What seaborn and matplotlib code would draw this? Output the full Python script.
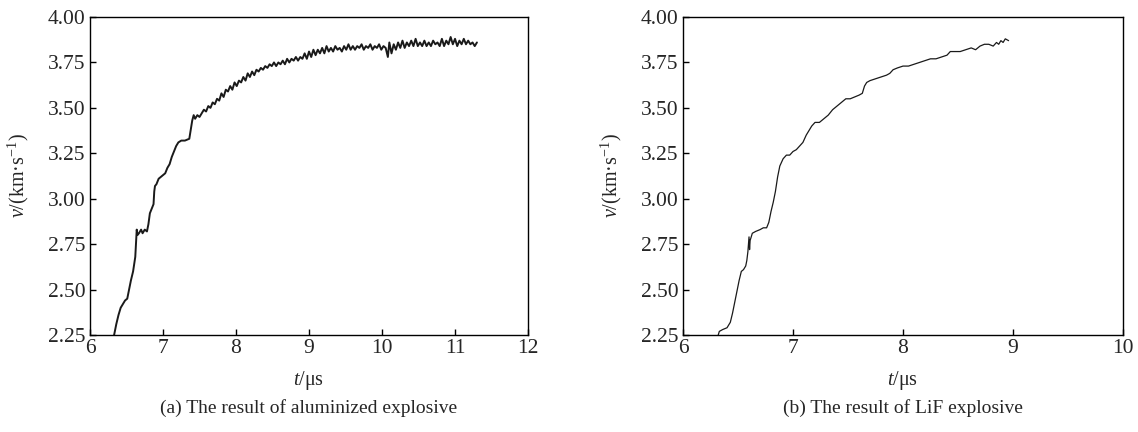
import matplotlib
matplotlib.use("Agg")
import matplotlib.pyplot as plt
import seaborn as sns
import pandas as pd

# (a) aluminized explosive
t_al = [6.33, 6.36, 6.39, 6.42, 6.45, 6.48, 6.51, 6.53, 6.56, 6.59, 6.62, 6.63, 6.64, 6.65,
        6.67, 6.70, 6.72, 6.75, 6.78, 6.80, 6.82, 6.85, 6.87, 6.88, 6.89, 6.91, 6.94, 6.97,
        7.00, 7.03, 7.06, 7.09, 7.12, 7.15, 7.18, 7.21, 7.25, 7.30, 7.36, 7.38, 7.40, 7.42,
        7.44, 7.47, 7.50, 7.53, 7.56, 7.59, 7.62, 7.65, 7.68, 7.71, 7.74, 7.77, 7.80, 7.83,
        7.86, 7.89, 7.92, 7.95, 7.98, 8.01, 8.04, 8.07, 8.10, 8.13, 8.16, 8.19, 8.22, 8.25,
        8.28, 8.31, 8.34, 8.37, 8.40, 8.43, 8.46, 8.49, 8.52, 8.55, 8.58, 8.61, 8.64, 8.67,
        8.70, 8.73, 8.76, 8.79, 8.82, 8.85, 8.88, 8.91, 8.94, 8.97, 9.00, 9.03, 9.06, 9.09,
        9.12, 9.15, 9.18, 9.21, 9.24, 9.27, 9.30, 9.33, 9.36, 9.39, 9.42, 9.45, 9.48, 9.51,
        9.54, 9.57, 9.60, 9.63, 9.66, 9.69, 9.72, 9.75, 9.78, 9.81, 9.84, 9.87, 9.90, 9.93,
        9.96, 9.99, 10.02, 10.05, 10.08, 10.10, 10.13, 10.16, 10.19, 10.22, 10.25, 10.28,
        10.31, 10.34, 10.37, 10.40, 10.43, 10.46, 10.49, 10.52, 10.55, 10.58, 10.61, 10.64,
        10.67, 10.70, 10.73, 10.76, 10.79, 10.82, 10.85, 10.88, 10.91, 10.94, 10.97, 11.00,
        11.03, 11.06, 11.09, 11.12, 11.15, 11.18, 11.21, 11.24, 11.27, 11.30]
v_al = [2.25, 2.31, 2.36, 2.40, 2.42, 2.44, 2.45, 2.49, 2.55, 2.60, 2.68, 2.76, 2.83, 2.80,
        2.81, 2.83, 2.81, 2.83, 2.82, 2.86, 2.92, 2.95, 2.97, 3.04, 3.07, 3.08, 3.11, 3.12,
        3.13, 3.14, 3.17, 3.19, 3.23, 3.26, 3.29, 3.31, 3.32, 3.32, 3.33, 3.38, 3.43, 3.46,
        3.44, 3.46, 3.45, 3.47, 3.49, 3.48, 3.51, 3.50, 3.53, 3.52, 3.55, 3.54, 3.58, 3.56,
        3.60, 3.59, 3.62, 3.60, 3.64, 3.62, 3.65, 3.64, 3.67, 3.65, 3.69, 3.67, 3.70, 3.68,
        3.71, 3.70, 3.72, 3.71, 3.73, 3.72, 3.74, 3.73, 3.75, 3.73, 3.75, 3.74, 3.76, 3.74,
        3.77, 3.75, 3.77, 3.76, 3.78, 3.76, 3.78, 3.77, 3.80, 3.77, 3.81, 3.78, 3.82, 3.79,
        3.82, 3.80, 3.83, 3.80, 3.84, 3.81, 3.83, 3.81, 3.84, 3.82, 3.83, 3.81, 3.84, 3.82,
        3.85, 3.82, 3.84, 3.82, 3.84, 3.83, 3.85, 3.82, 3.84, 3.83, 3.85, 3.82, 3.84, 3.83,
        3.85, 3.82, 3.84, 3.83, 3.78, 3.86, 3.80, 3.85, 3.82, 3.86, 3.83, 3.87,
        3.83, 3.86, 3.84, 3.87, 3.84, 3.88, 3.84, 3.86, 3.84, 3.87, 3.84, 3.86,
        3.84, 3.87, 3.85, 3.86, 3.84, 3.88, 3.84, 3.87, 3.85, 3.89, 3.85, 3.88,
        3.84, 3.87, 3.85, 3.88, 3.85, 3.87, 3.85, 3.86, 3.84, 3.86]

# (b) LiF explosive
t_lif = [6.32, 6.33, 6.36, 6.40, 6.43, 6.45, 6.47, 6.49, 6.51, 6.53, 6.55, 6.57, 6.58, 6.59,
         6.60, 6.605, 6.61, 6.63, 6.66, 6.70, 6.73, 6.76, 6.78, 6.80, 6.82, 6.84, 6.86, 6.88,
         6.91, 6.94, 6.97, 7.00, 7.03, 7.06, 7.09, 7.12, 7.14, 7.17, 7.20, 7.24, 7.28, 7.32,
         7.36, 7.40, 7.44, 7.48, 7.52, 7.56, 7.60, 7.63, 7.65, 7.67, 7.70, 7.75, 7.80, 7.85,
         7.88, 7.91, 7.95, 8.00, 8.05, 8.10, 8.15, 8.20, 8.25, 8.30, 8.35, 8.40, 8.43, 8.47,
         8.52, 8.57, 8.62, 8.66, 8.70, 8.74, 8.78, 8.82, 8.85, 8.87, 8.89, 8.91, 8.93, 8.96]
v_lif = [2.25, 2.27, 2.28, 2.29, 2.32, 2.37, 2.43, 2.49, 2.55, 2.60, 2.61, 2.63, 2.66, 2.71,
         2.79, 2.72, 2.77, 2.81, 2.82, 2.83, 2.84, 2.84, 2.87, 2.93, 2.98, 3.04, 3.12, 3.18,
         3.22, 3.24, 3.24, 3.26, 3.27, 3.29, 3.31, 3.35, 3.37, 3.40, 3.42, 3.42, 3.44, 3.46,
         3.49, 3.51, 3.53, 3.55, 3.55, 3.56, 3.57, 3.58, 3.62, 3.64, 3.65, 3.66, 3.67, 3.68,
         3.69, 3.71, 3.72, 3.73, 3.73, 3.74, 3.75, 3.76, 3.77, 3.77, 3.78, 3.79, 3.81, 3.81,
         3.81, 3.82, 3.83, 3.82, 3.84, 3.85, 3.85, 3.84, 3.86, 3.85, 3.87, 3.86, 3.88, 3.87]

y_ticks = [2.25, 2.50, 2.75, 3.00, 3.25, 3.50, 3.75, 4.00]
captions = ["(a) The result of aluminized explosive", "(b) The result of LiF explosive"]

sns.set_theme(style="white")
plt.rcParams["font.family"] = ["Liberation Serif", "DejaVu Serif"]
plt.rcParams["mathtext.fontset"] = "custom"
plt.rcParams["mathtext.rm"] = "Liberation Serif"
plt.rcParams["mathtext.it"] = "Liberation Serif:italic"

fig = plt.figure(figsize=(11.38, 4.32), dpi=100)
ax1 = fig.add_axes([0.0791, 0.2245, 0.3849, 0.7361])
ax2 = fig.add_axes([0.6002, 0.2245, 0.3866, 0.7361])

panels = [
    (ax1, t_al, v_al, (6, 12), range(6, 13), 1.4),
    (ax2, t_lif, v_lif, (6, 10), range(6, 11), 0.9),
]

for (ax, t, v, xlim, xt, lw), cap in zip(panels, captions):
    d = pd.DataFrame({"t": t, "v": v})
    sns.lineplot(data=d, x="t", y="v", ax=ax, color="#1a1a1a", lw=lw,
                 sort=False, estimator=None)
    ax.set_xlim(*xlim)
    ax.set_ylim(2.25, 4.0)
    ax.set_xticks(list(xt))
    ax.set_yticks(y_ticks)
    ax.set_yticklabels([f"{y:.2f}" for y in y_ticks])
    ax.tick_params(direction="in", length=4, width=1, color="black",
                   labelsize=15.5, pad=3, left=True, bottom=True)
    for s in ax.spines.values():
        s.set_color("black")
        s.set_linewidth(1.0)
    ax.set_xlabel("$t$/μs", fontsize=14.5, labelpad=8)
    ax.set_ylabel("$v$/(km·s$^{-1}$)", fontsize=14.5, labelpad=12)
    box = ax.get_position()
    fig.text(box.x0 + box.width / 2, 0.056, cap, ha="center", va="center", fontsize=14)

fig.savefig("out.png", dpi=100)
